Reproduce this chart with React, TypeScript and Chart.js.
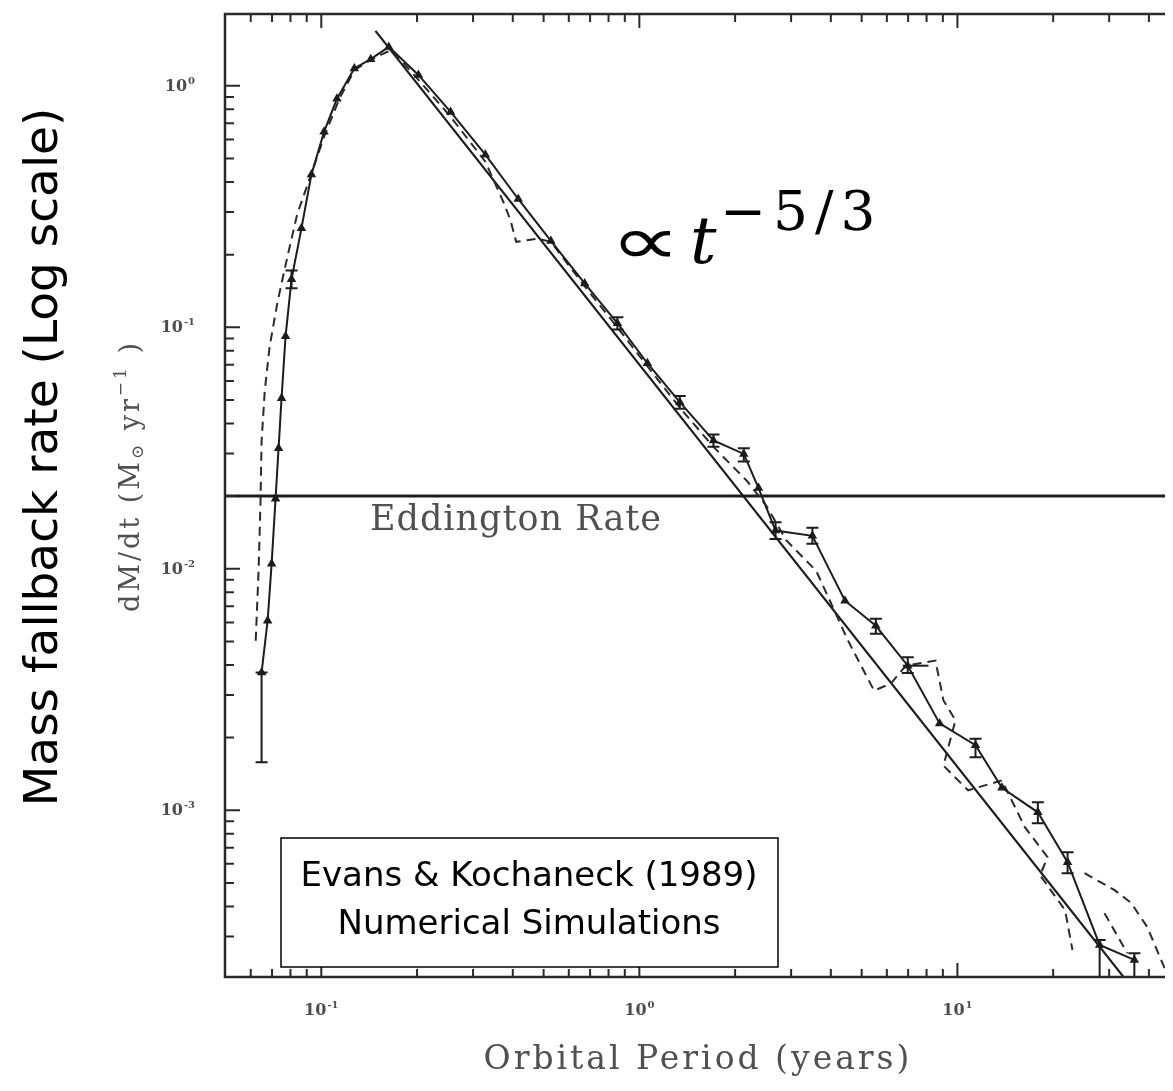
import React, { useEffect, useRef } from "react";
import { Chart, registerables } from "chart.js";

Chart.register(...registerables);

// ---- data ----
const solidX = [0.0649, 0.0678, 0.0698, 0.0718, 0.0734, 0.075, 0.0772, 0.0806, 0.0866, 0.0931, 0.102, 0.112, 0.127, 0.143, 0.163, 0.202, 0.255, 0.328, 0.416, 0.527, 0.673, 0.853, 1.06, 1.34, 1.71, 2.13, 2.37, 2.68, 3.5, 4.43, 5.54, 6.98, 8.79, 11.4, 13.8, 17.9, 22.2, 28.0, 36.0];
const solidY = [0.00372, 0.0061, 0.0105, 0.0195, 0.0316, 0.0509, 0.0918, 0.158, 0.257, 0.429, 0.645, 0.884, 1.18, 1.29, 1.45, 1.11, 0.78, 0.519, 0.34, 0.228, 0.152, 0.104, 0.071, 0.049, 0.034, 0.0299, 0.0216, 0.0144, 0.0137, 0.00738, 0.00581, 0.00397, 0.00229, 0.00186, 0.00124, 0.000981, 0.00061, 0.000277, 0.00024];
const solidErrLo = [0.00158, null, null, null, null, null, null, 0.145, null, null, null, null, null, null, null, null, null, null, null, null, null, 0.098, null, 0.046, 0.032, 0.0278, null, 0.0133, 0.0127, null, 0.00539, 0.0037, null, 0.00166, null, 0.000883, 0.000549, 0.000204, 0.000204];
const solidErrHi = [0.00372, null, null, null, null, null, null, 0.172, null, null, null, null, null, null, null, null, null, null, null, null, null, 0.11, null, 0.052, 0.036, 0.0316, null, 0.0156, 0.0148, null, 0.00621, 0.0043, null, 0.00198, null, 0.00108, 0.00067, 0.00029, 0.000256];
const solidXErrLo = [null, null, null, null, null, null, null, null, null, null, null, null, null, null, null, null, null, null, null, null, null, null, null, null, null, null, null, null, null, null, null, 6.73, null, null, null, null, null, null, null];
const solidXErrHi = [null, null, null, null, null, null, null, null, null, null, null, null, null, null, null, null, null, null, null, null, null, null, null, null, null, null, null, null, null, null, null, 8.11, null, null, null, null, null, null, null];

const dashedX = [0.0622, 0.0635, 0.0644, 0.0649, 0.0664, 0.0688, 0.0729, 0.0783, 0.0841, 0.0917, 0.102, 0.114, 0.127, 0.143, 0.166, 0.202, 0.255, 0.328, 0.373, 0.393, 0.41, 0.48, 0.527, 0.673, 0.853, 1.06, 1.34, 1.71, 2.18, 2.51, 2.9, 3.6, 4.53, 5.47, 6.18, 6.88, 8.53, 9.04, 9.86, 9.04, 10.8, 13.8, 16.3, 19.2, 18.2, 21.8, 23.0];
const dashedY = [0.00504, 0.0098, 0.0191, 0.0338, 0.0544, 0.0834, 0.128, 0.197, 0.296, 0.409, 0.615, 0.884, 1.16, 1.28, 1.41, 1.06, 0.745, 0.485, 0.332, 0.279, 0.226, 0.233, 0.226, 0.148, 0.1, 0.069, 0.0465, 0.032, 0.0231, 0.0182, 0.0131, 0.0098, 0.00504, 0.00313, 0.00335, 0.00397, 0.00417, 0.00285, 0.00236, 0.00153, 0.00121, 0.00133, 0.000851, 0.00064, 0.000538, 0.000386, 0.000264];
const dashedArcX = [25.1, 31.2, 35.2, 39.5, 43.7, 46.0];
const dashedArcY = [0.000549, 0.000467, 0.000413, 0.000329, 0.00024, 0.000205];
const dashedTailX = [29.0, 34.2];
const dashedTailY = [0.000375, 0.000256];

const powerLawX = [0.148, 33.5];
const powerLawY = [1.69, 0.000202];
const eddingtonRate = 0.02;

const xMin = 0.0498;
const xMax = 45.6;
const yMin = 0.000204;
const yMax = 1.984;

const xMajorTicks = [0.1, 1, 10];
const xMajorLabels = ["-1", "0", "1"];
const xMinorTicks = [0.06, 0.07, 0.08, 0.09, 0.2, 0.3, 0.4, 0.5, 0.6, 0.7, 0.8, 0.9, 2, 3, 4, 5, 6, 7, 8, 9, 20, 30, 40];
const yMajorTicks = [1, 0.1, 0.01, 0.001];
const yMajorLabels = ["0", "-1", "-2", "-3"];
const yMinorTicks = [0.0003, 0.0004, 0.0005, 0.0006, 0.0007, 0.0008, 0.0009, 0.002, 0.003, 0.004, 0.005, 0.006, 0.007, 0.008, 0.009, 0.02, 0.03, 0.04, 0.05, 0.06, 0.07, 0.08, 0.09, 0.2, 0.3, 0.4, 0.5, 0.6, 0.7, 0.8, 0.9];

const W = 1165;
const H = 1083;
const INK = "#1c1c1c";
const GRAY = "#4d4d4d";

const pts = (xs: number[], ys: number[]) => xs.map((x, i) => ({ x, y: ys[i] }));

const errorBarPlugin = {
  id: "errorBars",
  afterDatasetsDraw(chart: any) {
    const ctx = chart.ctx;
    const xs = chart.scales.x;
    const ys = chart.scales.y;
    ctx.save();
    ctx.strokeStyle = INK;
    ctx.lineWidth = 2;
    const cap = 6;
    solidX.forEach((xv, i) => {
      const px = xs.getPixelForValue(xv);
      const lo = solidErrLo[i];
      const hi = solidErrHi[i];
      if (lo != null && hi != null) {
        const p1 = Math.min(ys.getPixelForValue(lo), chart.chartArea.bottom);
        const p2 = ys.getPixelForValue(hi);
        ctx.beginPath();
        ctx.moveTo(px, p1);
        ctx.lineTo(px, p2);
        ctx.moveTo(px - cap, p1);
        ctx.lineTo(px + cap, p1);
        ctx.moveTo(px - cap, p2);
        ctx.lineTo(px + cap, p2);
        ctx.stroke();
      }
      const xl = solidXErrLo[i];
      const xh = solidXErrHi[i];
      if (xl != null && xh != null) {
        const py = ys.getPixelForValue(solidY[i]);
        ctx.beginPath();
        ctx.moveTo(xs.getPixelForValue(xl), py);
        ctx.lineTo(xs.getPixelForValue(xh), py);
        ctx.stroke();
      }
    });
    ctx.restore();
  },
};

function drawPow(ctx: CanvasRenderingContext2D, x: number, y: number, exp: string, align: "left" | "right" | "center") {
  ctx.font = "bold 16px 'DejaVu Serif'";
  const wBase = ctx.measureText("10").width;
  ctx.font = "bold 10px 'DejaVu Serif'";
  const wExp = ctx.measureText(exp).width;
  const total = wBase + wExp + 1;
  let left = x;
  if (align === "right") left = x - total;
  if (align === "center") left = x - total / 2;
  ctx.textAlign = "left";
  ctx.textBaseline = "alphabetic";
  ctx.font = "bold 16px 'DejaVu Serif'";
  ctx.fillText("10", left, y);
  ctx.font = "bold 10px 'DejaVu Serif'";
  ctx.fillText(exp, left + wBase + 1, y - 7);
}

const framePlugin = {
  id: "frameAndText",
  afterDraw(chart: any) {
    const ctx: any = chart.ctx;
    const { left, top, right, bottom } = chart.chartArea;
    const xs = chart.scales.x;
    const ys = chart.scales.y;
    ctx.save();

    // frame (right side is cut off in the original)
    ctx.strokeStyle = "#2a2a2a";
    ctx.lineWidth = 2.5;
    ctx.beginPath();
    ctx.moveTo(right + 2, top);
    ctx.lineTo(left, top);
    ctx.lineTo(left, bottom);
    ctx.lineTo(right + 2, bottom);
    ctx.stroke();

    // ticks (inward)
    ctx.lineWidth = 2;
    ctx.beginPath();
    xMajorTicks.forEach((v) => {
      const p = xs.getPixelForValue(v);
      ctx.moveTo(p, bottom); ctx.lineTo(p, bottom - 14);
      ctx.moveTo(p, top); ctx.lineTo(p, top + 14);
    });
    xMinorTicks.forEach((v) => {
      const p = xs.getPixelForValue(v);
      ctx.moveTo(p, bottom); ctx.lineTo(p, bottom - 8);
      ctx.moveTo(p, top); ctx.lineTo(p, top + 8);
    });
    yMajorTicks.forEach((v) => {
      const p = ys.getPixelForValue(v);
      ctx.moveTo(left, p); ctx.lineTo(left + 15, p);
    });
    yMinorTicks.forEach((v) => {
      const p = ys.getPixelForValue(v);
      ctx.moveTo(left, p); ctx.lineTo(left + 9, p);
    });
    ctx.stroke();

    // tick labels
    ctx.fillStyle = GRAY;
    xMajorTicks.forEach((v, i) => {
      drawPow(ctx, xs.getPixelForValue(v), bottom + 38, xMajorLabels[i], "center");
    });
    yMajorTicks.forEach((v, i) => {
      drawPow(ctx, left - 30, ys.getPixelForValue(v) + 5, yMajorLabels[i], "right");
    });

    // Eddington label
    ctx.fillStyle = "#505050";
    ctx.font = "35px 'DejaVu Serif'";
    ctx.letterSpacing = "1px";
    ctx.textAlign = "center";
    ctx.textBaseline = "middle";
    ctx.fillText("Eddington Rate", 508, 513);

    // x axis title
    ctx.font = "33px 'DejaVu Serif'";
    ctx.letterSpacing = "3px";
    ctx.fillText("Orbital Period (years)", 690, 1052);

    // original y axis title (rotated)
    ctx.save();
    ctx.translate(124, 468);
    ctx.rotate(-Math.PI / 2);
    ctx.letterSpacing = "3px";
    const big = "27px 'DejaVu Serif'";
    const small = "17px 'DejaVu Serif'";
    const parts: [string, string, number][] = [
      ["dM/dt (M", big, 0],
      ["\u2299", small, 7],
      [" yr", big, 0],
      ["\u22121", small, -10],
      [" )", big, 0],
    ];
    let tw = 0;
    parts.forEach(([t, f]) => { ctx.font = f; tw += ctx.measureText(t).width; });
    let cx = -tw / 2;
    ctx.textAlign = "left";
    ctx.textBaseline = "middle";
    parts.forEach(([t, f, dy]) => {
      ctx.font = f;
      ctx.fillText(t, cx, dy);
      cx += ctx.measureText(t).width;
    });
    ctx.restore();
    ctx.letterSpacing = "0px";

    // presentation y title
    ctx.save();
    ctx.fillStyle = "#000";
    ctx.translate(37, 449);
    ctx.rotate(-Math.PI / 2);
    ctx.font = "47px 'DejaVu Sans'";
    ctx.textAlign = "center";
    ctx.textBaseline = "middle";
    ctx.fillText("Mass fallback rate (Log scale)", 0, 0);
    ctx.restore();

    // power-law annotation
    ctx.fillStyle = "#000";
    ctx.textAlign = "left";
    ctx.textBaseline = "alphabetic";
    ctx.save();
    ctx.translate(602, 256);
    ctx.scale(1.6, 1.1);
    ctx.font = "200 62px 'DejaVu Sans'";
    ctx.fillText("\u221D", 0, 0);
    ctx.restore();
    ctx.font = "italic 66px 'DejaVu Serif'";
    ctx.fillText("t", 682, 255);
    ctx.font = "55px 'DejaVu Serif'";
    ctx.letterSpacing = "7px";
    ctx.fillText("\u22125/3", 712, 222);
    ctx.letterSpacing = "0px";

    // source box
    ctx.fillStyle = "#fff";
    ctx.fillRect(273, 830, 497, 129);
    ctx.strokeStyle = "#000";
    ctx.lineWidth = 1.5;
    ctx.strokeRect(273, 830, 497, 129);
    ctx.fillStyle = "#000";
    ctx.font = "34px 'DejaVu Sans'";
    ctx.textAlign = "center";
    ctx.textBaseline = "middle";
    ctx.fillText("Evans & Kochaneck (1989)", 521, 869);
    ctx.fillText("Numerical Simulations", 521, 917);

    ctx.restore();
  },
};

export default function App() {
  const ref = useRef<HTMLCanvasElement>(null);
  useEffect(() => {
    if (!ref.current) return;
    const chart = new Chart(ref.current, {
      type: "scatter",
      data: {
        datasets: [
          {
            data: pts(solidX, solidY),
            showLine: true,
            borderColor: INK,
            backgroundColor: INK,
            borderWidth: 2,
            pointStyle: "triangle",
            pointRadius: 3.5,
          },
          {
            data: pts(dashedX, dashedY),
            showLine: true,
            borderColor: "#2a2a2a",
            borderWidth: 2,
            borderDash: [9, 6],
            pointRadius: 0,
          },
          {
            data: pts(dashedArcX, dashedArcY),
            showLine: true,
            borderColor: "#2a2a2a",
            borderWidth: 2,
            borderDash: [9, 6],
            pointRadius: 0,
          },
          {
            data: pts(dashedTailX, dashedTailY),
            showLine: true,
            borderColor: "#2a2a2a",
            borderWidth: 2,
            borderDash: [9, 6],
            pointRadius: 0,
          },
          {
            data: pts(powerLawX, powerLawY),
            showLine: true,
            borderColor: INK,
            borderWidth: 2.2,
            pointRadius: 0,
          },
          {
            data: [{ x: xMin, y: eddingtonRate }, { x: xMax, y: eddingtonRate }],
            showLine: true,
            borderColor: INK,
            borderWidth: 3,
            pointRadius: 0,
          },
        ],
      },
      options: {
        responsive: false,
        animation: false,
        layout: { padding: { left: 217, top: 4, right: 0, bottom: H - 969 } },
        plugins: { legend: { display: false }, tooltip: { enabled: false } },
        scales: {
          x: { type: "logarithmic", min: xMin, max: xMax, display: false },
          y: { type: "logarithmic", min: yMin, max: yMax, display: false },
        },
      },
      plugins: [errorBarPlugin, framePlugin],
    });
    return () => chart.destroy();
  }, []);
  return (
    <div style={{ width: W, height: H, background: "#fff" }}>
      <canvas ref={ref} width={W} height={H} style={{ display: "block" }} />
    </div>
  );
}
